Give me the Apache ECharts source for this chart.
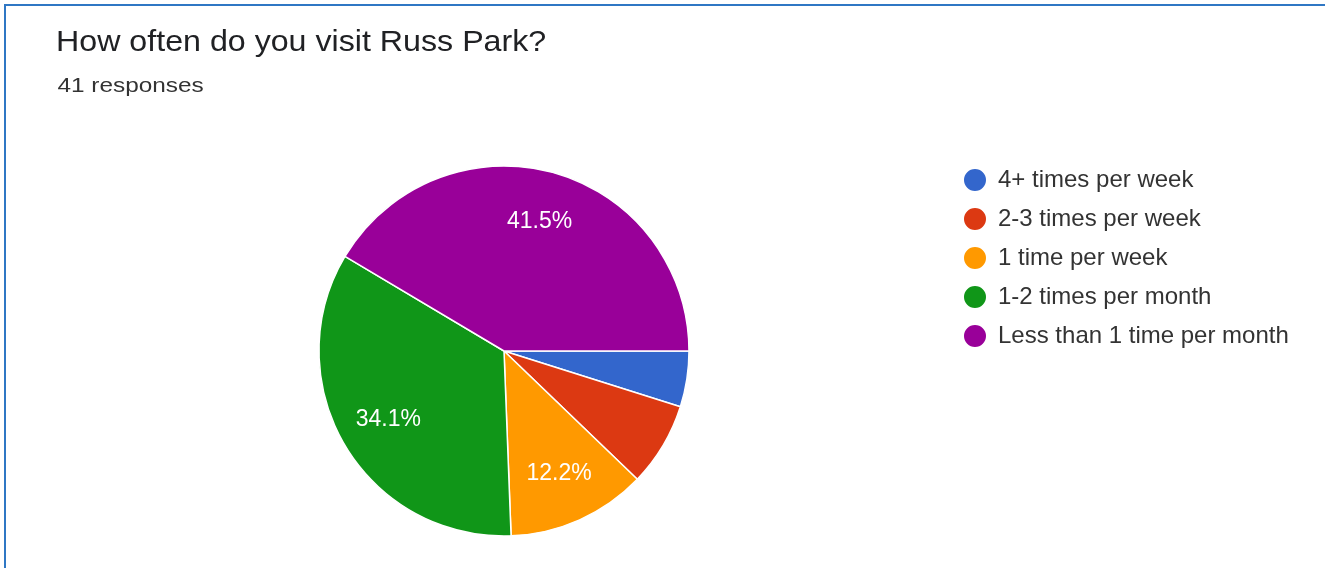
<!DOCTYPE html>
<html>
<head>
<meta charset="utf-8">
<script src="https://cdn.jsdelivr.net/npm/echarts@6/dist/echarts.min.js"></script>
<style>
  html, body { margin: 0; padding: 0; background: #fff; }
  #chart { width: 1325px; height: 568px; }
</style>
</head>
<body>
<div id="chart"></div>
<script>
// Survey answers: how often respondents visit Russ Park
const categories = [
  '4+ times per week',
  '2-3 times per week',
  '1 time per week',
  '1-2 times per month',
  'Less than 1 time per month'
];
const responses = [2, 3, 5, 14, 17];
const sliceColors = ['#3366cc', '#dc3912', '#ff9900', '#109618', '#990099'];
const questionTitle = 'How often do you visit Russ Park?';
const responseCount = '41 responses';

const total = responses.reduce((a, b) => a + b, 0);
const FONT = '"Liberation Sans", Arial, sans-serif';
const CENTER = [504, 351];
const RADIUS = 185;

const chart = echarts.init(document.getElementById('chart'), null, { renderer: 'canvas' });

const sliceData = categories.map((name, i) => ({
  name,
  value: responses[i],
  itemStyle: { color: sliceColors[i] }
}));

// Percentage labels sit in the outer part of each slice; thin slices stay unlabeled
const labelData = categories.map((name, i) => ({
  name,
  value: responses[i],
  label: { show: responses[i] / total >= 0.1 }
}));

chart.setOption({
  animation: false,
  backgroundColor: '#ffffff',
  legend: {
    orient: 'vertical',
    left: 957,
    top: 162,
    icon: 'circle',
    itemWidth: 24,
    itemHeight: 24,
    itemGap: 13,
    selectedMode: false,
    data: categories,
    textStyle: { fontFamily: FONT, fontSize: 24, color: '#333333', padding: [0, 0, 0, 6] }
  },
  graphic: [
    // card frame: top and left edges
    {
      type: 'line',
      shape: { x1: 4, y1: 5, x2: 1325, y2: 5 },
      style: { stroke: '#2f77c4', lineWidth: 2 },
      silent: true
    },
    {
      type: 'line',
      shape: { x1: 5, y1: 4, x2: 5, y2: 568 },
      style: { stroke: '#2f77c4', lineWidth: 2 },
      silent: true
    },
    // question heading and response count (wide-set type)
    {
      type: 'text',
      x: 56,
      y: 28.5,
      scaleX: 1.11,
      silent: true,
      style: {
        text: questionTitle,
        font: '29px ' + FONT,
        fill: '#202124',
        align: 'left',
        verticalAlign: 'top'
      }
    },
    {
      type: 'text',
      x: 57.5,
      y: 76,
      scaleX: 1.16,
      silent: true,
      style: {
        text: responseCount,
        font: '21px ' + FONT,
        fill: '#333333',
        align: 'left',
        verticalAlign: 'top'
      }
    }
  ],
  series: [
    {
      type: 'pie',
      center: CENTER,
      radius: [0, RADIUS],
      startAngle: 0,
      clockwise: true,
      data: sliceData,
      label: { show: false },
      labelLine: { show: false },
      itemStyle: { borderColor: '#ffffff', borderWidth: 1.5 },
      emphasis: { disabled: true },
      silent: true
    },
    {
      type: 'pie',
      center: CENTER,
      radius: [Math.round(RADIUS * 0.42), RADIUS],
      startAngle: 0,
      clockwise: true,
      data: labelData,
      percentPrecision: 1,
      itemStyle: { color: 'rgba(0,0,0,0)' },
      label: {
        show: true,
        position: 'inside',
        formatter: '{d}%',
        fontFamily: FONT,
        fontSize: 23,
        color: '#ffffff'
      },
      labelLine: { show: false },
      emphasis: { disabled: true },
      silent: true
    }
  ]
});
</script>
</body>
</html>
